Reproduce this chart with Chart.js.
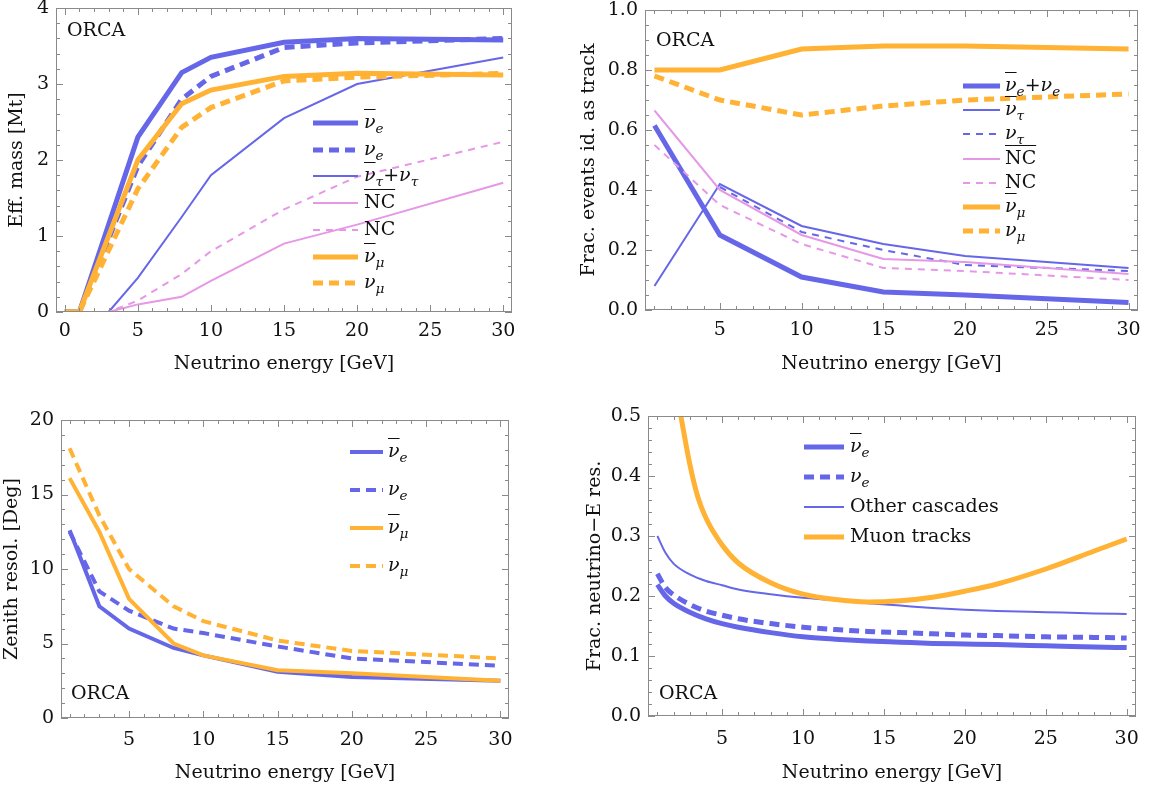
<!DOCTYPE html>
<html>
<head>
<meta charset="utf-8">
<script src="https://cdn.jsdelivr.net/npm/chart.js@4.4.0/dist/chart.umd.min.js"></script>
<style>
  body { margin: 0; background: #fff; width: 1151px; height: 789px; position: relative; overflow: hidden; font-family: 'DejaVu Serif', serif; }
  .panel { position: absolute; }
  .orca { position: absolute; font-size: 19px; line-height: 1; color: #111; }
  .legend { position: absolute; font-size: 19px; line-height: 1; color: #111; }
  .legend .row { position: absolute; left: 0; height: 0; white-space: nowrap; }
  .legend svg { position: absolute; left: 0; top: -6px; }
  .legend .lab { position: absolute; top: -11px; }
  .m { font-style: italic; }
  .bar { text-decoration: overline; text-decoration-thickness: 1px; }
  sub { font-size: 0.72em; vertical-align: -0.35em; line-height: 0; }
</style>
</head>
<body>
<div class="panel" style="left:0;top:-12px;width:575px;height:402px"><canvas id="mass"></canvas></div>
<div class="panel" style="left:575px;top:-12px;width:576px;height:402px"><canvas id="track"></canvas></div>
<div class="panel" style="left:0;top:390px;width:575px;height:399px"><canvas id="zenith"></canvas></div>
<div class="panel" style="left:575px;top:390px;width:576px;height:399px"><canvas id="eres"></canvas></div>

<div class="orca" style="left:67px;top:20px">ORCA</div>
<div class="orca" style="left:656px;top:30px">ORCA</div>
<div class="orca" style="left:71px;top:683px">ORCA</div>
<div class="orca" style="left:659px;top:683px">ORCA</div>

<div class="legend" id="legMass" style="left:313px;top:123px"></div>
<div class="legend" id="legTrack" style="left:963px;top:86px"></div>
<div class="legend" id="legZenith" style="left:350px;top:452px"></div>
<div class="legend" id="legEres" style="left:804px;top:447px"></div>

<script>
// colours
const BLUE = 'rgb(102,102,232)';
const ORANGE = 'rgb(255,178,51)';
const PINK = 'rgb(230,152,230)';

function nu(sub, bar) {
  return '<span class="m"><span class="' + (bar ? 'bar' : '') + '">ν</span><sub>' + sub + '</sub></span>';
}
const ncBar = '<span class="bar">NC</span>';

// ---- top left: effective mass [Mt]
const massEnergy = [0, 1, 3, 5, 8, 10, 15, 20, 30];
const massNueBar = [0, 0, null, 2.30, 3.15, 3.35, 3.55, 3.60, 3.58];
const massNue = [0, 0, null, 1.92, 2.80, 3.10, 3.48, 3.54, 3.60];
const massNutau = [0, 0, 0, 0.45, 1.25, 1.80, 2.55, 3.00, 3.35];
const massNcBar = [0, 0, 0, 0.10, 0.20, 0.41, 0.90, 1.15, 1.70];
const massNc = [0, 0, 0, 0.15, 0.50, 0.80, 1.35, 1.78, 2.24];
const massNumuBar = [0, 0, null, 2.00, 2.74, 2.92, 3.10, 3.14, 3.12];
const massNumu = [0, 0, null, 1.62, 2.43, 2.69, 3.04, 3.09, 3.14];
const massLabels = [nu('e', true), nu('e'), nu('τ', true) + '+' + nu('τ'), ncBar, 'NC', nu('μ', true), nu('μ')];
const massXTicks = [0, 5, 10, 15, 20, 25, 30];
const massYTicks = [0, 1, 2, 3, 4];

// ---- top right: fraction of events identified as track
const trackEnergy = [1, 5, 10, 15, 20, 30];
const trackNue = [0.615, 0.25, 0.11, 0.06, 0.05, 0.025];
const trackNutauBar = [0.08, 0.42, 0.28, 0.22, 0.18, 0.14];
const trackNutau = [null, 0.41, 0.26, 0.20, 0.15, 0.13];
const trackNcBar = [0.665, 0.40, 0.25, 0.17, 0.16, 0.12];
const trackNc = [0.55, 0.35, 0.22, 0.14, 0.13, 0.10];
const trackNumuBar = [0.80, 0.80, 0.87, 0.88, 0.88, 0.87];
const trackNumu = [0.78, 0.70, 0.65, 0.68, 0.70, 0.72];
const trackLabels = [nu('e', true) + '+' + nu('e'), nu('τ', true), nu('τ'), ncBar, 'NC', nu('μ', true), nu('μ')];
const trackXTicks = [5, 10, 15, 20, 25, 30];
const trackYTicks = [0, 0.2, 0.4, 0.6, 0.8, 1.0];

// ---- bottom left: zenith resolution [deg]
const zenEnergy = [1, 3, 5, 8, 10, 15, 20, 30];
const zenNueBar = [12.6, 7.5, 6.0, 4.7, 4.2, 3.1, 2.75, 2.5];
const zenNue = [12.5, 8.5, 7.2, 6.0, 5.7, 4.8, 4.0, 3.5];
const zenNumuBar = [16.1, 12.5, 8.0, 5.0, 4.2, 3.2, 3.0, 2.5];
const zenNumu = [18.1, 13.6, 10.0, 7.5, 6.5, 5.2, 4.5, 4.0];
const zenLabels = [nu('e', true), nu('e'), nu('μ', true), nu('μ')];
const zenYTicks = [0, 5, 10, 15, 20];

// ---- bottom right: fractional energy resolution
const eresEnergy = [1, 1.5, 2, 3, 4, 5, 6, 8, 10, 12, 14, 16, 18, 20, 22, 25, 28, 30];
const eresNueBar = [0.219, 0.200, 0.188, 0.173, 0.162, 0.154, 0.148, 0.139, 0.132, 0.128, 0.125, 0.123, 0.121, 0.120, 0.119, 0.117, 0.115, 0.114];
const eresNue = [0.237, 0.214, 0.202, 0.186, 0.175, 0.168, 0.162, 0.154, 0.148, 0.144, 0.141, 0.139, 0.137, 0.135, 0.134, 0.132, 0.131, 0.130];
const eresOther = [0.300, 0.272, 0.254, 0.236, 0.225, 0.218, 0.211, 0.203, 0.197, 0.193, 0.188, 0.184, 0.180, 0.177, 0.175, 0.173, 0.171, 0.170];
const muonEnergy = [2.45, 3, 3.5, 4, 5, 6, 8, 10, 12, 14, 16, 18, 20, 22, 25, 28, 30];
const eresMuon = [0.50, 0.42, 0.365, 0.33, 0.285, 0.255, 0.222, 0.203, 0.194, 0.190, 0.192, 0.198, 0.208, 0.220, 0.245, 0.275, 0.295];
const eresLabels = [nu('e', true), nu('e'), 'Other cascades', 'Muon tracks'];
const eresYTicks = [0, 0.1, 0.2, 0.3, 0.4, 0.5];

const THICK = 5, THIN = 2;
const DASH = [10, 6], THIN_DASH = [7, 6];

function line(label, xs, ys, color, width, dash, extra) {
  return Object.assign({
    label,
    data: xs.map((x, i) => ({ x, y: ys[i] })),
    borderColor: color,
    borderWidth: width,
    borderDash: dash || [],
    pointRadius: 0,
    fill: false,
    spanGaps: true,
    tension: 0
  }, extra || {});
}

// frame with inward major/minor ticks on all four sides
const frameTicks = {
  id: 'frameTicks',
  afterDatasetsDraw(chart, args, opts) {
    const { ctx, chartArea: a, scales: { x, y } } = chart;
    ctx.save();
    ctx.strokeStyle = '#8a8a8a';
    ctx.lineWidth = 1;
    ctx.beginPath();
    const x0 = opts.xFrom, nx = Math.round((opts.xTo - opts.xFrom) / opts.xStep);
    for (let i = 0; i <= nx; i++) {
      const v = x0 + i * opts.xStep;
      const px = Math.round(x.getPixelForValue(v)) + 0.5;
      const len = (Math.abs(v / opts.xMajor - Math.round(v / opts.xMajor)) < 1e-6) ? 7 : 4;
      ctx.moveTo(px, a.bottom); ctx.lineTo(px, a.bottom - len);
      ctx.moveTo(px, a.top); ctx.lineTo(px, a.top + len);
    }
    const ny = Math.round((opts.yTo - opts.yFrom) / opts.yStep);
    for (let i = 0; i <= ny; i++) {
      const py = Math.round(y.getPixelForValue(opts.yFrom + i * opts.yStep)) + 0.5;
      const len = (i % opts.yEvery === 0) ? 7 : 4;
      ctx.moveTo(a.left, py); ctx.lineTo(a.left + len, py);
      ctx.moveTo(a.right, py); ctx.lineTo(a.right - len, py);
    }
    ctx.stroke();
    ctx.strokeRect(Math.round(a.left) + 0.5, Math.round(a.top) + 0.5, Math.round(a.right - a.left) - 1, Math.round(a.bottom - a.top) - 1);
    ctx.restore();
  }
};

// legend written as html so sub/superscripts stay real text
const htmlLegend = {
  id: 'htmlLegend',
  afterUpdate(chart, args, opts) {
    const box = document.getElementById(opts.id);
    box.innerHTML = '';
    chart.data.datasets.forEach((ds, i) => {
      const w = opts.sample;
      const row = document.createElement('div');
      row.className = 'row';
      row.style.top = (i * opts.step) + 'px';
      row.innerHTML = '<svg width="' + w + '" height="12"><line x1="0" y1="6" x2="' + w + '" y2="6" stroke="' + ds.borderColor +
        '" stroke-width="' + ds.borderWidth + '" stroke-dasharray="' + (ds.borderDash || []).join(' ') + '"/></svg>' +
        '<span class="lab" style="left:' + (w + opts.gap) + 'px">' + ds.label + '</span>';
      box.appendChild(row);
    });
  }
};

const FONT = { family: "'DejaVu Serif', serif", size: 19 };

function makeChart(id, box, area, cfg) {
  const datasets = cfg.datasets.map((d, i) => Object.assign(d, { order: -i }));
  return new Chart(document.getElementById(id), {
    type: 'line',
    data: { datasets },
    plugins: [frameTicks, htmlLegend],
    options: {
      responsive: true,
      maintainAspectRatio: false,
      animation: false,
      layout: { padding: { left: 0, bottom: 0, top: area.top - box.top, right: box.left + box.width - area.right } },
      plugins: {
        legend: { display: false },
        tooltip: { enabled: false },
        frameTicks: cfg.frame,
        htmlLegend: cfg.legend
      },
      scales: {
        x: {
          type: 'linear',
          min: cfg.xMin, max: cfg.xMax,
          afterFit: s => { s.height = box.top + box.height - area.bottom; },
          afterBuildTicks: s => { s.ticks = cfg.xTicks.map(v => ({ value: v })); },
          grid: { display: false, drawTicks: false },
          border: { display: false },
          ticks: { font: FONT, color: '#111', padding: cfg.xPad, maxRotation: 0, autoSkip: false },
          title: { display: true, text: 'Neutrino energy [GeV]', font: FONT, color: '#111', padding: { top: 0, bottom: cfg.xTitlePad } }
        },
        y: {
          type: 'linear',
          min: cfg.yTicks[0], max: cfg.yTicks[cfg.yTicks.length - 1],
          afterFit: s => { s.width = area.left - box.left; },
          afterBuildTicks: s => { s.ticks = cfg.yTicks.map(v => ({ value: v })); },
          grid: { display: false, drawTicks: false },
          border: { display: false },
          ticks: { font: FONT, color: '#111', padding: 7, autoSkip: false, callback: cfg.yFmt || (v => String(v)) },
          title: { display: true, text: cfg.yTitle, font: FONT, color: '#111', padding: { top: cfg.yTitlePad, bottom: 0 } }
        }
      }
    }
  });
}

const fix1 = v => v.toFixed(1);

makeChart('mass', { left: 0, top: -12, width: 575, height: 402 }, { left: 56, top: 8, right: 512, bottom: 312 }, {
  xMin: -0.6, xMax: 30.6, xTicks: massXTicks, yTicks: massYTicks, xPad: 8, xTitlePad: 15, yTitlePad: 6,
  yTitle: 'Eff. mass [Mt]',
  frame: { xFrom: 0, xTo: 30, xStep: 1, xMajor: 5, yFrom: 0, yTo: 4, yStep: 0.2, yEvery: 5 },
  legend: { id: 'legMass', step: 26.7, sample: 45, gap: 6 },
  datasets: [
    line(massLabels[0], massEnergy, massNueBar, BLUE, THICK),
    line(massLabels[1], massEnergy, massNue, BLUE, THICK, DASH),
    line(massLabels[2], massEnergy, massNutau, BLUE, THIN),
    line(massLabels[3], massEnergy, massNcBar, PINK, THIN),
    line(massLabels[4], massEnergy, massNc, PINK, THIN, THIN_DASH),
    line(massLabels[5], massEnergy, massNumuBar, ORANGE, THICK),
    line(massLabels[6], massEnergy, massNumu, ORANGE, THICK, DASH)
  ]
});

makeChart('track', { left: 575, top: -12, width: 576, height: 402 }, { left: 645, top: 10, right: 1138, bottom: 310 }, {
  xMin: 0.42, xMax: 30.58, xTicks: trackXTicks, yTicks: trackYTicks, xPad: 9, xTitlePad: 15, yTitlePad: 3, yFmt: fix1,
  yTitle: 'Frac. events id. as track',
  frame: { xFrom: 1, xTo: 30, xStep: 1, xMajor: 5, yFrom: 0, yTo: 1, yStep: 0.05, yEvery: 4 },
  legend: { id: 'legTrack', step: 24.2, sample: 37, gap: 5 },
  datasets: [
    line(trackLabels[0], trackEnergy, trackNue, BLUE, THICK),
    line(trackLabels[1], trackEnergy, trackNutauBar, BLUE, THIN),
    line(trackLabels[2], trackEnergy, trackNutau, BLUE, THIN, THIN_DASH),
    line(trackLabels[3], trackEnergy, trackNcBar, PINK, THIN),
    line(trackLabels[4], trackEnergy, trackNc, PINK, THIN, THIN_DASH),
    line(trackLabels[5], trackEnergy, trackNumuBar, ORANGE, THICK),
    line(trackLabels[6], trackEnergy, trackNumu, ORANGE, THICK, DASH)
  ]
});

makeChart('zenith', { left: 0, top: 390, width: 575, height: 399 }, { left: 61, top: 420, right: 509, bottom: 718 }, {
  xMin: 0.42, xMax: 30.58, xTicks: trackXTicks, yTicks: zenYTicks, xPad: 11, xTitlePad: 5, yTitlePad: 1,
  yTitle: 'Zenith resol. [Deg]',
  frame: { xFrom: 1, xTo: 30, xStep: 1, xMajor: 5, yFrom: 0, yTo: 20, yStep: 1, yEvery: 5 },
  legend: { id: 'legZenith', step: 38, sample: 33, gap: 5 },
  datasets: [
    line(zenLabels[0], zenEnergy, zenNueBar, BLUE, 4),
    line(zenLabels[1], zenEnergy, zenNue, BLUE, 4, DASH),
    line(zenLabels[2], zenEnergy, zenNumuBar, ORANGE, 4),
    line(zenLabels[3], zenEnergy, zenNumu, ORANGE, 4, DASH)
  ]
});

const smooth = { cubicInterpolationMode: 'monotone' };
makeChart('eres', { left: 575, top: 390, width: 576, height: 399 }, { left: 648, top: 416, right: 1138, bottom: 716 }, {
  xMin: 0.42, xMax: 30.58, xTicks: trackXTicks, yTicks: eresYTicks, xPad: 12, xTitlePad: 5, yTitlePad: 9, yFmt: fix1,
  yTitle: 'Frac. neutrino\u2212E res.',
  frame: { xFrom: 1, xTo: 30, xStep: 1, xMajor: 5, yFrom: 0, yTo: 0.5, yStep: 0.02, yEvery: 5 },
  legend: { id: 'legEres', step: 30, sample: 40, gap: 6 },
  datasets: [
    line(eresLabels[0], eresEnergy, eresNueBar, BLUE, THICK, null, smooth),
    line(eresLabels[1], eresEnergy, eresNue, BLUE, THICK, DASH, smooth),
    line(eresLabels[2], eresEnergy, eresOther, BLUE, THIN, null, smooth),
    line(eresLabels[3], muonEnergy, eresMuon, ORANGE, THICK, null, Object.assign({ clip: 0 }, smooth))
  ]
});
</script>
</body>
</html>
